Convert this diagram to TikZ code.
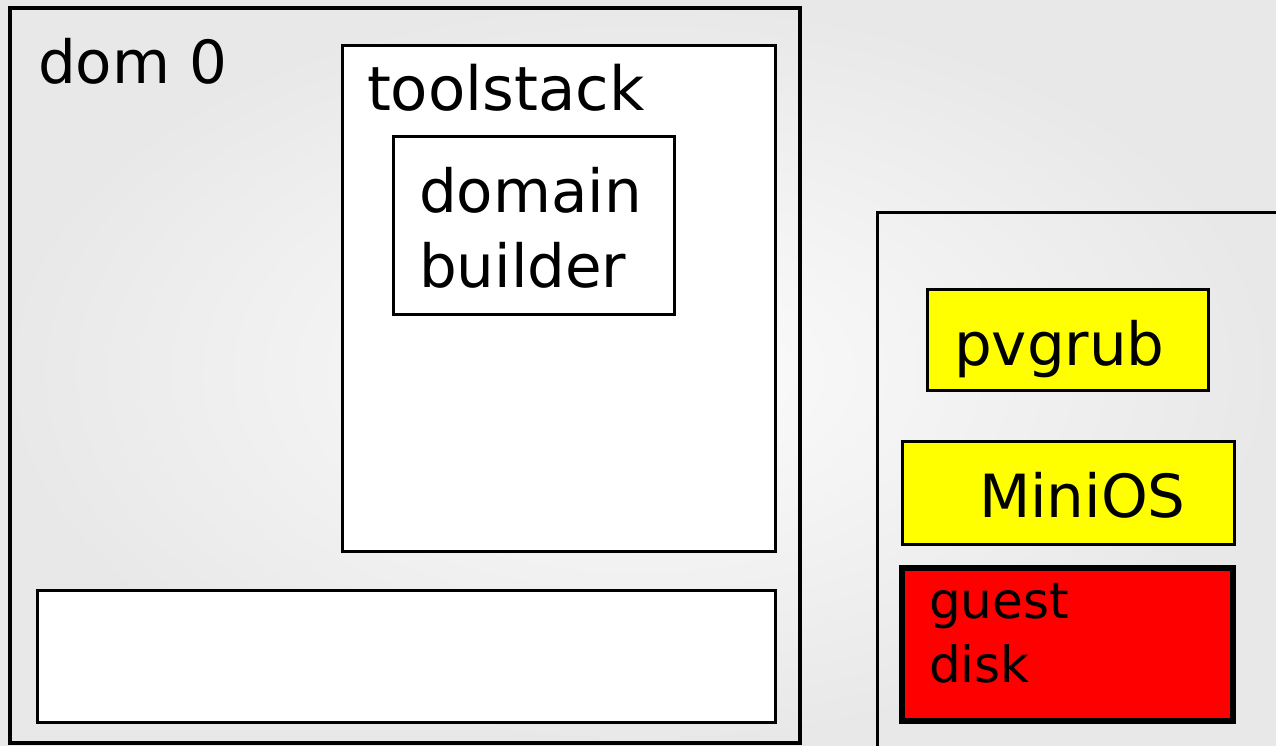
\documentclass[tikz,border=0pt]{standalone}
\usepackage{fontspec}
\setmainfont{DejaVu Sans}
\definecolor{boxyellow}{HTML}{FFFF00}
\definecolor{boxred}{HTML}{FF0000}
\tikzset{
  x=1pt, y=-1pt,
  panel/.style={draw=black, inner sep=0pt, outer sep=0pt, rectangle},
  label/.style={inner sep=0pt, outer sep=0pt, anchor=base west, font=\fontsize{59.5}{75}\selectfont, align=left},
  biglabel/.style={label, font=\fontsize{61}{75}\selectfont},
  smalllabel/.style={label, font=\fontsize{50}{64}\selectfont},
}
\begin{document}
\begin{tikzpicture}
\useasboundingbox (0,0) rectangle (1276,745);
\shade[inner color=black!1, outer color=black!9] (0,0) rectangle (1276,745);

% dom 0
\node[panel, line width=4pt, minimum width=790pt, minimum height=735pt] (dom0) at (405,375.5) {};
\node[panel, line width=3pt, fill=white, minimum width=433pt, minimum height=506pt] (toolstack) at (558.5,298) {};
\node[panel, line width=3pt, fill=white, minimum width=281pt, minimum height=178pt] (builder) at (533.5,225) {};
\node[panel, line width=3pt, fill=white, minimum width=738pt, minimum height=132pt] (hyper) at (406,656) {};

% guest domain
\node[panel, line width=3pt, minimum width=413pt, minimum height=548pt] (guest) at (1083.5,486) {};
\node[panel, line width=3pt, fill=boxyellow, minimum width=281pt, minimum height=101pt] (pvgrub) at (1067.5,339.5) {};
\node[panel, line width=3pt, fill=boxyellow, minimum width=332pt, minimum height=103pt] (minios) at (1068,492.5) {};
\node[panel, line width=6pt, fill=boxred, minimum width=331pt, minimum height=153pt] (disk) at (1067.5,644.5) {};

% texts
\node[label] (dom0text) at (38,83) {dom 0};
\node[biglabel] (toolstacktext) at (367,110) {toolstack};
\node[label] (buildertext) at (419,287) {domain\\builder};
\node[label] (pvgrubtext) at (954,365) {pvgrub};
\node[label] (miniostext) at (979,517) {MiniOS};
\node[smalllabel] (disktext) at (929,682) {guest\\disk};
\end{tikzpicture}
\end{document}
